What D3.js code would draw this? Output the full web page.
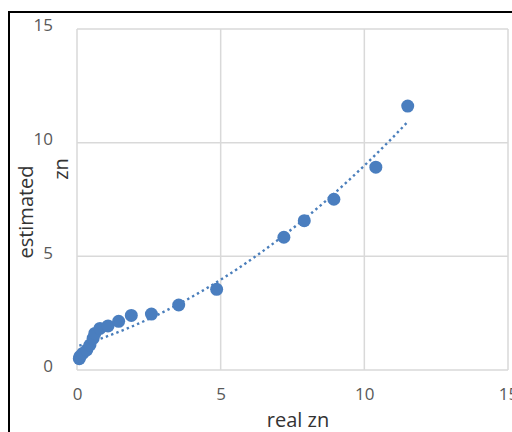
<!DOCTYPE html>
<html><head><meta charset="utf-8">
<script src="https://cdn.jsdelivr.net/npm/d3@7"></script>
<style>body{margin:0;background:#fff}svg{display:block}</style>
</head><body>
<script>
const realZn = [0.08,0.10,0.20,0.34,0.45,0.56,0.62,0.80,1.08,1.45,1.89,2.59,3.54,4.86,7.20,7.91,8.94,10.40,11.51];
const estZn  = [0.50,0.59,0.73,0.88,1.10,1.39,1.61,1.83,1.94,2.14,2.40,2.46,2.86,3.55,5.84,6.57,7.51,8.92,11.61];
const xTicks = [0,5,10,15];
const yTicks = [0,5,10,15];

const W=512,H=432;
const svg=d3.select("body").append("svg").attr("width",W).attr("height",H);
const font="'Open Sans', sans-serif";
const x=d3.scaleLinear().domain([0,15]).range([77,508]);
const y=d3.scaleLinear().domain([0,15]).range([370,29]);

// outer frame
svg.append("rect").attr("x",9).attr("y",12).attr("width",540).attr("height",460)
  .attr("fill","none").attr("stroke","#000").attr("stroke-width",2);

// grid
const g=svg.append("g");
g.selectAll(".vx").data(xTicks).join("line")
  .attr("x1",d=>x(d)).attr("x2",d=>x(d)).attr("y1",y(0)).attr("y2",y(15))
  .attr("stroke","#d9d9d9").attr("stroke-width",1.5);
g.selectAll(".hy").data(yTicks).join("line")
  .attr("y1",d=>y(d)).attr("y2",d=>y(d)).attr("x1",x(0)).attr("x2",x(15))
  .attr("stroke","#d9d9d9").attr("stroke-width",1.5);

// axes labels via d3 axes
const xAxis=svg.append("g").attr("transform",`translate(0,${y(0)})`)
  .call(d3.axisBottom(x).tickValues(xTicks).tickSize(0).tickPadding(18));
const yAxis=svg.append("g").attr("transform",`translate(${x(0)},0)`)
  .call(d3.axisLeft(y).tickValues(yTicks).tickSize(0).tickPadding(24));
[xAxis,yAxis].forEach(a=>{a.select(".domain").remove();
  a.selectAll("text").attr("fill","#595959").style("font-family",font).style("font-size","17px");});
yAxis.selectAll("text").attr("dy","0.1em");

// trendline: least squares quadratic
function polyfit(xs,ys){
  let S=[0,0,0,0,0],T=[0,0,0];
  xs.forEach((xi,i)=>{for(let k=0;k<5;k++)S[k]+=Math.pow(xi,k);for(let k=0;k<3;k++)T[k]+=ys[i]*Math.pow(xi,k);});
  const A=[[S[0],S[1],S[2],T[0]],[S[1],S[2],S[3],T[1]],[S[2],S[3],S[4],T[2]]];
  for(let i=0;i<3;i++){for(let j=i+1;j<3;j++){const f=A[j][i]/A[i][i];for(let k=i;k<4;k++)A[j][k]-=f*A[i][k];}}
  const c=[0,0,0];
  for(let i=2;i>=0;i--){let s=A[i][3];for(let k=i+1;k<3;k++)s-=A[i][k]*c[k];c[i]=s/A[i][i];}
  return c;
}
const c=polyfit(realZn,estZn);
const xs=d3.range(0,101).map(i=>d3.min(realZn)+(d3.max(realZn)-d3.min(realZn))*i/100);
svg.append("path").datum(xs)
  .attr("d",d3.line().x(d=>x(d)).y(d=>y(c[0]+c[1]*d+c[2]*d*d)))
  .attr("fill","none").attr("stroke","#4a7ebb").attr("stroke-width",2.4)
  .attr("stroke-dasharray","2.4,3.2");

// points
svg.selectAll(".pt").data(realZn).join("circle")
  .attr("cx",d=>x(d)).attr("cy",(d,i)=>y(estZn[i])).attr("r",6.5)
  .attr("fill","#4a7ebf");

// titles
svg.append("text").attr("x",298).attr("y",427).attr("text-anchor","middle")
  .attr("fill","#333").style("font-family",font).style("font-size","20px").text("real zn");
svg.append("text").attr("transform","translate(33,212) rotate(-90)").attr("text-anchor","middle")
  .attr("fill","#333").style("font-family",font).style("font-size","20px").text("estimated");
svg.append("text").attr("transform","translate(68,169) rotate(-90)").attr("text-anchor","middle")
  .attr("fill","#333").style("font-family",font).style("font-size","20px").text("zn");
</script>
</body></html>
